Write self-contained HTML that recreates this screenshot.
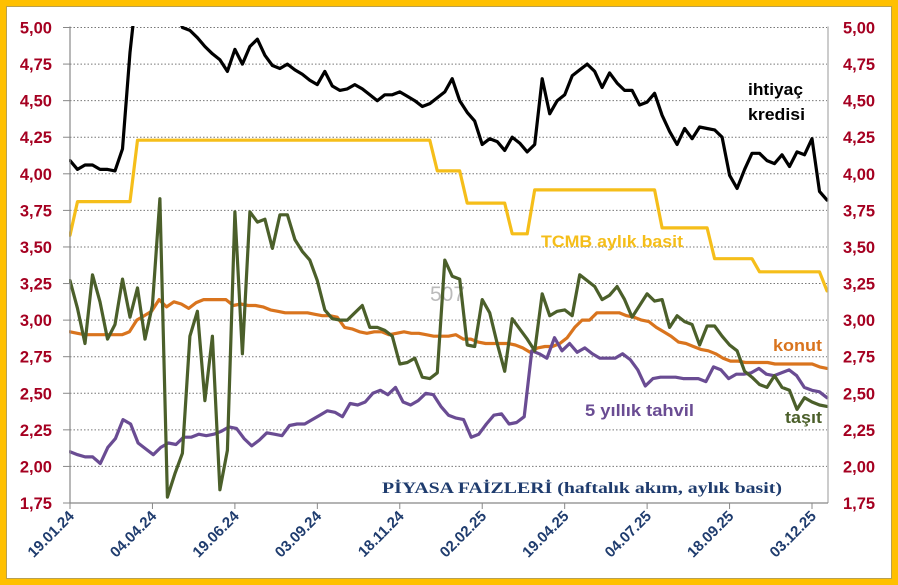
<!DOCTYPE html>
<html><head><meta charset="utf-8"><style>
html,body{margin:0;padding:0;background:#FFC000;}
svg{display:block;font-family:"Liberation Sans",sans-serif;}
</style></head><body>
<svg id="chart" width="898" height="585" viewBox="0 0 898 585" xmlns="http://www.w3.org/2000/svg">
<rect x="0" y="0" width="898" height="585" fill="#FFC000"/>
<rect x="6.5" y="6.5" width="885" height="572" fill="#fff" stroke="#B8A050" stroke-width="1"/>
<defs><clipPath id="pc"><rect x="69" y="26" width="760" height="478"/></clipPath></defs>
<g id="grid"></g>
<text x="430" y="301" font-size="21" fill="#BBBBBB">507</text>
<g id="series" clip-path="url(#pc)"></g>
<g id="axes"></g>
<text x="382" y="493" font-family="'Liberation Serif',serif" font-weight="bold" font-size="15.5" fill="#1F3C6E" textLength="400" lengthAdjust="spacingAndGlyphs">PİYASA FAİZLERİ (haftalık akım, aylık basit)</text>
<text x="748" y="95" font-weight="bold" font-size="17" fill="#000" textLength="55" lengthAdjust="spacingAndGlyphs">ihtiyaç</text>
<text x="748" y="120" font-weight="bold" font-size="17" fill="#000" textLength="57" lengthAdjust="spacingAndGlyphs">kredisi</text>
<text x="541" y="247" font-weight="bold" font-size="17" fill="#F5BE1A" textLength="142" lengthAdjust="spacingAndGlyphs">TCMB aylık basit</text>
<text x="773" y="351" font-weight="bold" font-size="17" fill="#D9741E" textLength="49" lengthAdjust="spacingAndGlyphs">konut</text>
<text x="585" y="416" font-weight="bold" font-size="17" fill="#6A4C93" textLength="109" lengthAdjust="spacingAndGlyphs">5 yıllık tahvil</text>
<text x="785" y="423" font-weight="bold" font-size="17" fill="#4B5F2A" textLength="37" lengthAdjust="spacingAndGlyphs">taşıt</text>
</svg>
<script>
const xLabels=["19.01.24","04.04.24","19.06.24","03.09.24","18.11.24","02.02.25","19.04.25","04.07.25","18.09.25","03.12.25"];
const yTicks=[1.75,2.00,2.25,2.50,2.75,3.00,3.25,3.50,3.75,4.00,4.25,4.50,4.75,5.00];
const ihtiyac=[4.09,4.03,4.06,4.06,4.03,4.03,4.02,4.17,4.83,5.3,5.5,5.5,5.4,5.3,5.15,5.00,4.98,4.93,4.87,4.82,4.78,4.70,4.85,4.75,4.87,4.92,4.81,4.74,4.72,4.75,4.71,4.68,4.64,4.61,4.70,4.60,4.57,4.58,4.61,4.58,4.54,4.50,4.54,4.54,4.56,4.53,4.50,4.46,4.48,4.52,4.56,
4.65,4.50,4.42,4.36,4.20,4.24,4.22,4.16,4.25,4.21,4.15,4.20,4.65,4.41,4.50,4.54,4.67,4.71,4.75,4.70,4.59,4.69,4.62,4.57,4.57,4.47,4.49,4.55,4.40,4.29,4.20,4.31,4.24,4.32,4.31,4.30,4.25,3.99,3.90,4.03,4.14,4.14,4.09,4.07,4.13,4.05,4.15,4.13,4.24,3.88,3.82];
const tcmb=[3.58,3.81,3.81,3.81,3.81,3.81,3.81,3.81,3.81,4.23,4.23,4.23,4.23,4.23,4.23,4.23,4.23,4.23,4.23,4.23,4.23,4.23,4.23,4.23,4.23,4.23,4.23,4.23,4.23,4.23,4.23,4.23,4.23,4.23,4.23,4.23,4.23,4.23,4.23,4.23,4.23,4.23,4.23,4.23,4.23,4.23,4.23,4.23,4.23,4.02,4.02,4.02,4.02,3.80,3.80,3.80,3.80,3.80,3.80,3.59,3.59,3.59,3.89,3.89,3.89,3.89,3.89,3.89,3.89,3.89,3.89,3.89,3.89,3.89,3.89,3.89,3.89,3.89,3.89,3.63,3.63,3.63,3.63,3.63,3.63,3.63,3.42,3.42,3.42,3.42,3.42,3.42,3.33,3.33,3.33,3.33,3.33,3.33,3.33,3.33,3.33,3.20];
const konut=[2.92,2.91,2.90,2.90,2.90,2.90,2.90,2.90,2.92,3.00,3.03,3.06,3.14,3.09,3.125,3.11,3.08,3.12,3.14,3.14,3.14,3.14,3.10,3.11,3.10,3.10,3.09,3.07,3.06,3.05,3.05,3.05,3.05,3.04,3.03,3.03,3.02,2.95,2.94,2.92,2.91,2.92,2.92,2.90,2.91,2.92,2.91,2.91,2.90,2.89,2.89,
2.89,2.90,2.87,2.87,2.85,2.84,2.84,2.84,2.84,2.83,2.81,2.78,2.81,2.82,2.82,2.84,2.88,2.95,3.00,3.00,3.05,3.05,3.05,3.05,3.03,3.02,3.00,2.99,2.95,2.92,2.89,2.85,2.84,2.82,2.80,2.79,2.77,2.74,2.72,2.72,2.71,2.71,2.71,2.71,2.70,2.70,2.70,2.70,2.70,2.70,2.68,2.67];
const tasit=[3.27,3.08,2.84,3.31,3.125,2.87,2.97,3.28,3.02,3.22,2.87,3.10,3.83,1.79,1.95,2.09,2.89,3.06,2.45,2.89,1.84,2.11,3.74,2.77,3.74,3.67,3.69,3.49,3.72,3.72,3.55,3.47,3.41,3.27,3.07,3.01,3.00,3.00,3.05,3.10,2.95,2.95,2.93,2.89,2.70,2.71,2.74,2.61,2.60,2.64,3.41,
3.30,3.28,2.83,2.82,3.14,3.05,2.84,2.65,3.01,2.94,2.87,2.79,3.18,3.03,3.06,3.07,3.03,3.31,3.27,3.23,3.14,3.17,3.23,3.14,3.02,3.10,3.18,3.13,3.14,2.95,3.03,2.99,2.97,2.83,2.96,2.96,2.89,2.83,2.79,2.65,2.61,2.56,2.54,2.62,2.54,2.52,2.39,2.47,2.44,2.42,2.41];
const tahvil=[2.10,2.08,2.065,2.065,2.02,2.13,2.19,2.32,2.29,2.16,2.12,2.08,2.13,2.16,2.15,2.20,2.20,2.22,2.21,2.22,2.24,2.27,2.26,2.19,2.14,2.18,2.23,2.22,2.21,2.28,2.29,2.29,2.32,2.35,2.38,2.37,2.34,2.43,2.42,2.44,2.50,2.52,2.49,2.54,2.44,2.42,2.45,2.50,2.49,2.41,2.35,
2.33,2.32,2.20,2.22,2.29,2.35,2.36,2.29,2.30,2.34,2.79,2.77,2.74,2.88,2.79,2.84,2.78,2.81,2.77,2.74,2.74,2.74,2.77,2.73,2.66,2.55,2.60,2.61,2.61,2.61,2.60,2.60,2.60,2.58,2.68,2.66,2.60,2.63,2.63,2.64,2.67,2.63,2.62,2.64,2.66,2.62,2.54,2.52,2.51,2.47];
const NS="http://www.w3.org/2000/svg";
const X0=70,X1=827,Y0=503,YTOP=27.5,VMIN=1.75,VMAX=5.0;
function xs(i,n){return X0+(X1-X0)*i/(n-1);}
function ys(v){return Y0-(v-VMIN)/(VMAX-VMIN)*(Y0-YTOP);}
function mk(tag,attrs,parent){const e=document.createElementNS(NS,tag);for(const k in attrs)e.setAttribute(k,attrs[k]);parent.appendChild(e);return e;}
const grid=document.getElementById('grid'),axes=document.getElementById('axes'),ser=document.getElementById('series');
yTicks.forEach(v=>{
  const y=ys(v);
  if(v>VMIN){const g=mk('line',{x1:X0,x2:X1,y1:y,y2:y,stroke:'#777','stroke-width':1,'stroke-dasharray':'1.5,2'},grid);
  
  }
  const tm=mk('line',{x1:X0-7,x2:X0,y1:y,y2:y,stroke:'#888','stroke-width':1},axes);
  
  
  const lab=v.toFixed(2).replace('.',',');
  const t1=mk('text',{x:52,y:y+6,'text-anchor':'end','font-size':16.5,'font-weight':'bold',fill:'#A50021'},axes);t1.textContent=lab;
  
  
  const t2=mk('text',{x:843,y:y+6,'font-size':16.5,'font-weight':'bold',fill:'#A50021'},axes);t2.textContent=lab;
  
  
});
const la=mk('line',{x1:X0,x2:X0,y1:YTOP-1,y2:Y0,stroke:'#888','stroke-width':1.2},axes);


const ra=mk('line',{x1:X1+1,x2:X1+1,y1:YTOP-1,y2:Y0,stroke:'#AAA','stroke-width':1.2},axes);


const xa=mk('line',{x1:X0,x2:X1+1,y1:Y0,y2:Y0,stroke:'#888','stroke-width':1.2},axes);


const N=ihtiyac.length;
xLabels.forEach((s,j)=>{
  const x=xs(j*11,N);
  const tk=mk('line',{x1:x,x2:x,y1:Y0,y2:Y0+6,stroke:'#888','stroke-width':1},axes);
  
  
  const t=mk('text',{x:x+5,y:Y0+14,'text-anchor':'end','font-size':15,'font-weight':'bold',fill:'#1F3C6E',transform:`rotate(-45 ${x+5} ${Y0+14})`},axes);
  t.textContent=s;
  
  
});
function line(arr,color,name,w){
  const d=arr.map((v,i)=>(i?'L':'M')+xs(i,arr.length).toFixed(1)+','+ys(v).toFixed(1)).join(' ');
  const p=mk('path',{d:d,fill:'none',stroke:color,'stroke-width':w,'stroke-linejoin':'round','stroke-linecap':'round'},ser);
  
  
}
line(tcmb,'#F5BE1A','series-tcmb',3.2);
line(konut,'#D9741E','series-konut',3.2);
line(tahvil,'#6A4C93','series-5y-tahvil',3.2);
line(tasit,'#4B5F2A','series-tasit',3.2);
line(ihtiyac,'#000','series-ihtiyac-kredisi',3.2);
</script>
</body></html>
